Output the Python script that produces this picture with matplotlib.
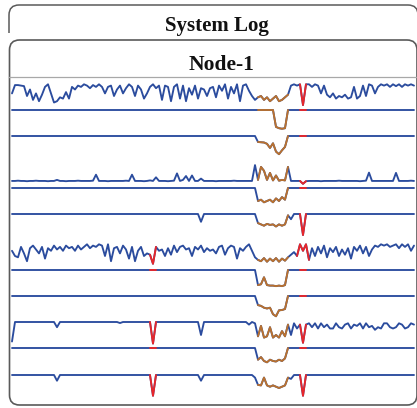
import matplotlib
matplotlib.use("Agg")
import matplotlib.pyplot as plt
from matplotlib.patches import FancyBboxPatch, PathPatch
from matplotlib.path import Path
import numpy as np

# ---------------- data (normalized levels) ----------------
TITLE = "System Log"
PANEL = "Node-1"

trace_a = [0.6, 0.92, 0.92, 0.9, 0.88, 0.5, 0.75, 0.35, 0.6, 0.3, 0.55, 0.85, 0.95, 0.6, 0.25,
           0.3, 0.45, 0.4, 0.65, 0.4, 0.85, 0.75, 0.9, 0.85, 0.95, 0.9, 0.8, 0.92, 0.85, 0.95,
           0.85, 0.6, 0.85, 0.9, 0.5, 0.75, 0.9, 0.6, 0.8, 0.95, 0.85, 0.5, 0.9, 0.75, 0.4,
           0.6, 0.85, 0.95, 0.8, 0.9, 0.35, 0.9, 0.85, 0.3, 0.85, 0.95, 0.4, 0.9, 0.3, 0.8,
           0.55, 0.9, 0.4, 0.8, 0.75, 0.5, 0.8, 0.85, 0.45, 0.9, 0.7, 0.95, 0.4, 0.85, 0.6,
           0.95, 0.3, 0.9, 0.95, 0.7, 0.5, 0.35, 0.45, 0.5, 0.35, 0.45, 0.3, 0.4, 0.5, 0.3,
           0.35, 0.45, 0.55, 0.9, 0.95, 0.9, 0.95, 0.15, 0.95, 0.95, 0.85, 0.95, 0.9, 0.6, 0.9,
           0.55, 0.45, 0.6, 0.4, 0.5, 0.45, 0.55, 0.4, 0.45, 0.85, 0.4, 0.5, 0.9, 0.5, 0.95,
           0.9, 0.6, 0.85, 0.95, 0.9, 0.95, 0.85, 0.95, 0.88, 0.95, 0.85, 0.95, 0.9, 0.95, 0.9]

trace_b = [1, 1, 1, 1, 1, 1, 1, 1, 1, 1, 1, 1, 1, 1, 1,
           1, 1, 1, 1, 1, 1, 1, 1, 1, 1, 1, 1, 1, 1, 1,
           1, 1, 1, 1, 1, 1, 1, 1, 1, 1, 1, 1, 1, 1, 1,
           1, 1, 1, 1, 1, 1, 1, 1, 1, 1, 1, 1, 1, 1, 1,
           1, 1, 1, 1, 1, 1, 1, 1, 1, 1, 1, 1, 1, 1, 1,
           1, 1, 1, 1, 1, 1, 1, 1, 1, 1, 1, 1, 1, 0.35, 0.3,
           0.28, 0.3, 1, 1, 1, 1, 1, 1, 1, 1, 1, 1, 1, 1, 1,
           1, 1, 1, 1, 1, 1, 1, 1, 1, 1, 1, 1, 1, 1, 1,
           1, 1, 1, 1, 1, 1, 1, 1, 1, 1, 1, 1, 1, 1, 1]

trace_c = [1, 1, 1, 1, 1, 1, 1, 1, 1, 1, 1, 1, 1, 1, 1,
           1, 1, 1, 1, 1, 1, 1, 1, 1, 1, 1, 1, 1, 1, 1,
           1, 1, 1, 1, 1, 1, 1, 1, 1, 1, 1, 1, 1, 1, 1,
           1, 1, 1, 1, 1, 1, 1, 1, 1, 1, 1, 1, 1, 1, 1,
           1, 1, 1, 1, 1, 1, 1, 1, 1, 1, 1, 1, 1, 1, 1,
           1, 1, 1, 1, 1, 1, 1, 0.77, 0.76, 0.75, 0.7, 0.54, 0.72, 0.4, 0.3,
           0.45, 0.58, 1, 1, 1, 1, 1, 1, 1, 1, 1, 1, 1, 1, 1,
           1, 1, 1, 1, 1, 1, 1, 1, 1, 1, 1, 1, 1, 1, 1,
           1, 1, 1, 1, 1, 1, 1, 1, 1, 1, 1, 1, 1, 1, 1]

trace_d = [0.31, 0.31, 0.32, 0.31, 0.31, 0.3, 0.31, 0.31, 0.32, 0.31, 0.31, 0.31, 0.3, 0.31, 0.31,
           0.35, 0.31, 0.31, 0.3, 0.31, 0.31, 0.31, 0.32, 0.31, 0.31, 0.31, 0.31, 0.32, 0.55, 0.31,
           0.31, 0.31, 0.3, 0.31, 0.31, 0.31, 0.31, 0.31, 0.32, 0.31, 0.55, 0.31, 0.31, 0.31, 0.3,
           0.31, 0.33, 0.31, 0.45, 0.31, 0.31, 0.31, 0.3, 0.31, 0.32, 0.6, 0.31, 0.35, 0.5, 0.31,
           0.52, 0.31, 0.31, 0.4, 0.31, 0.31, 0.31, 0.31, 0.3, 0.31, 0.31, 0.31, 0.31, 0.31, 0.32,
           0.31, 0.31, 0.31, 0.31, 0.31, 0.31, 0.92, 0.35, 0.85, 0.7, 0.35, 0.62, 0.33, 0.52, 0.32,
           0.35, 0.33, 0.85, 0.31, 0.31, 0.31, 0.31, 0.2, 0.3, 0.31, 0.31, 0.31, 0.31, 0.3, 0.31,
           0.31, 0.31, 0.31, 0.31, 0.32, 0.31, 0.31, 0.31, 0.31, 0.31, 0.31, 0.3, 0.31, 0.32, 0.63,
           0.31, 0.31, 0.31, 0.31, 0.31, 0.31, 0.31, 0.31, 0.62, 0.31, 0.31, 0.31, 0.31, 0.32, 0.31]

trace_e = [1, 1, 1, 1, 1, 1, 1, 1, 1, 1, 1, 1, 1, 1, 1,
           1, 1, 1, 1, 1, 1, 1, 1, 1, 1, 1, 1, 1, 1, 1,
           1, 1, 1, 1, 1, 1, 1, 1, 1, 1, 1, 1, 1, 1, 1,
           1, 1, 1, 1, 1, 1, 1, 1, 1, 1, 1, 1, 1, 1, 1,
           1, 1, 1, 1, 1, 1, 1, 1, 1, 1, 1, 1, 1, 1, 1,
           1, 1, 1, 1, 1, 1, 1, 0.5, 0.55, 0.45, 0.5, 0.55, 0.45, 0.6, 0.5,
           0.65, 0.55, 1, 1, 1, 1, 1, 1, 1, 1, 1, 1, 1, 1, 1,
           1, 1, 1, 1, 1, 1, 1, 1, 1, 1, 1, 1, 1, 1, 1,
           1, 1, 1, 1, 1, 1, 1, 1, 1, 1, 1, 1, 1, 1, 1]

trace_f = [1, 1, 1, 1, 1, 1, 1, 1, 1, 1, 1, 1, 1, 1, 1,
           1, 1, 1, 1, 1, 1, 1, 1, 1, 1, 1, 1, 1, 1, 1,
           1, 1, 1, 1, 1, 1, 1, 1, 1, 1, 1, 1, 1, 1, 1,
           1, 1, 1, 1, 1, 1, 1, 1, 1, 1, 1, 1, 1, 1, 1,
           1, 1, 1, 0.7, 1, 1, 1, 1, 1, 1, 1, 1, 1, 1, 1,
           1, 1, 1, 1, 1, 1, 1, 0.65, 0.6, 0.55, 0.62, 0.58, 0.6, 0.52, 0.6,
           0.55, 0.6, 0.95, 0.8, 1, 1, 1, 0.19, 1, 1, 1, 1, 1, 1, 1,
           1, 1, 1, 1, 1, 1, 1, 1, 1, 1, 1, 1, 1, 1, 1,
           1, 1, 1, 1, 1, 1, 1, 1, 1, 1, 1, 1, 1, 1, 1]

trace_g = [0.7, 0.5, 0.45, 0.85, 0.6, 0.3, 0.8, 0.9, 0.75, 0.6, 0.85, 0.4, 0.8, 0.7, 0.9,
           0.75, 0.85, 0.7, 0.9, 0.8, 0.85, 0.7, 0.9, 0.75, 0.85, 0.95, 0.8, 0.9, 0.85, 0.95,
           0.9, 0.5, 0.95, 0.3, 0.8, 0.85, 0.6, 0.9, 0.75, 0.4, 0.85, 0.3, 0.7, 0.85, 0.5,
           0.6, 0.55, 0.2, 0.85, 0.7, 0.75, 0.5, 0.8, 0.55, 0.9, 0.65, 0.85, 0.9, 0.75, 0.8,
           0.5, 0.85, 0.75, 0.9, 0.65, 0.8, 0.7, 0.75, 0.6, 0.85, 0.9, 0.55, 0.8, 0.9, 0.85,
           0.4, 0.8, 0.7, 0.85, 0.95, 0.7, 0.45, 0.35, 0.3, 0.42, 0.28, 0.4, 0.3, 0.42, 0.28,
           0.4, 0.32, 0.45, 0.55, 0.65, 0.5, 0.95, 0.7, 0.95, 0.35, 0.8, 0.5, 0.85, 0.6, 0.9,
           0.45, 0.8, 0.65, 0.85, 0.5, 0.75, 0.55, 0.8, 0.4, 0.85, 0.7, 0.9, 0.6, 0.85, 0.5,
           0.75, 0.9, 0.85, 0.95, 0.9, 0.95, 0.85, 0.9, 0.95, 0.8, 0.95, 0.85, 0.95, 0.7, 0.9]

trace_h = [1, 1, 1, 1, 1, 1, 1, 1, 1, 1, 1, 1, 1, 1, 1,
           1, 1, 1, 1, 1, 1, 1, 1, 1, 1, 1, 1, 1, 1, 1,
           1, 1, 1, 1, 1, 1, 1, 1, 1, 1, 1, 1, 1, 1, 1,
           1, 1, 1, 1, 1, 1, 1, 1, 1, 1, 1, 1, 1, 1, 1,
           1, 1, 1, 1, 1, 1, 1, 1, 1, 1, 1, 1, 1, 1, 1,
           1, 1, 1, 1, 1, 1, 1, 0.42, 0.45, 0.72, 0.42, 0.4, 0.4, 0.38, 0.4,
           0.38, 0.42, 1, 1, 1, 1, 1, 1, 1, 1, 1, 1, 1, 1, 1,
           1, 1, 1, 1, 1, 1, 1, 1, 1, 1, 1, 1, 1, 1, 1,
           1, 1, 1, 1, 1, 1, 1, 1, 1, 1, 1, 1, 1, 1, 1]

trace_i = [1, 1, 1, 1, 1, 1, 1, 1, 1, 1, 1, 1, 1, 1, 1,
           1, 1, 1, 1, 1, 1, 1, 1, 1, 1, 1, 1, 1, 1, 1,
           1, 1, 1, 1, 1, 1, 1, 1, 1, 1, 1, 1, 1, 1, 1,
           1, 1, 1, 1, 1, 1, 1, 1, 1, 1, 1, 1, 1, 1, 1,
           1, 1, 1, 1, 1, 1, 1, 1, 1, 1, 1, 1, 1, 1, 1,
           1, 1, 1, 1, 1, 1, 1, 0.65, 0.62, 0.55, 0.52, 0.55, 0.3, 0.22, 0.45,
           0.46, 0.5, 1, 1, 1, 1, 1, 1, 1, 1, 1, 1, 1, 1, 1,
           1, 1, 1, 1, 1, 1, 1, 1, 1, 1, 1, 1, 1, 1, 1,
           1, 1, 1, 1, 1, 1, 1, 1, 1, 1, 1, 1, 1, 1, 1]

trace_j = [0.25, 1, 1, 1, 1, 1, 1, 1, 1, 1, 1, 1, 1, 1, 1,
           0.8, 1, 1, 1, 1, 1, 1, 1, 1, 1, 1, 1, 1, 1, 1,
           1, 1, 1, 1, 1, 1, 0.96, 1, 1, 1, 1, 1, 1, 1, 1,
           1, 1, 0.17, 1, 1, 1, 1, 1, 1, 1, 1, 1, 1, 1, 1,
           1, 1, 1, 0.5, 1, 1, 1, 1, 1, 1, 1, 1, 1, 1, 1,
           1, 1, 1, 1, 0.9, 1, 0.95, 0.45, 0.85, 0.4, 0.45, 0.8, 0.4, 0.5, 0.4,
           0.65, 0.45, 0.9, 0.5, 0.95, 0.75, 0.9, 0.2, 0.9, 0.95, 0.8, 0.95, 0.75, 0.95, 0.8,
           0.9, 0.75, 0.75, 0.95, 0.8, 0.75, 0.9, 0.95, 0.75, 0.9, 0.85, 0.95, 0.75, 0.95, 0.8,
           0.85, 0.7, 0.8, 0.75, 0.95, 0.95, 0.8, 0.75, 0.8, 0.95, 0.9, 0.75, 0.8, 0.95, 0.9]

trace_k = [1, 1, 1, 1, 1, 1, 1, 1, 1, 1, 1, 1, 1, 1, 1,
           1, 1, 1, 1, 1, 1, 1, 1, 1, 1, 1, 1, 1, 1, 1,
           1, 1, 1, 1, 1, 1, 1, 1, 1, 1, 1, 1, 1, 1, 1,
           1, 1, 1, 1, 1, 1, 1, 1, 1, 1, 1, 1, 1, 1, 1,
           1, 1, 1, 1, 1, 1, 1, 1, 1, 1, 1, 1, 1, 1, 1,
           1, 1, 1, 1, 1, 1, 1, 0.55, 0.65, 0.5, 0.45, 0.55, 0.5, 0.48, 0.55,
           0.5, 0.6, 1, 1, 1, 1, 1, 1, 1, 1, 1, 1, 1, 1, 1,
           1, 1, 1, 1, 1, 1, 1, 1, 1, 1, 1, 1, 1, 1, 1,
           1, 1, 1, 1, 1, 1, 1, 1, 1, 1, 1, 1, 1, 1, 1]

trace_l = [1, 1, 1, 1, 1, 1, 1, 1, 1, 1, 1, 1, 1, 1, 1,
           0.78, 1, 1, 1, 1, 1, 1, 1, 1, 1, 1, 1, 1, 1, 1,
           1, 1, 1, 1, 1, 1, 1, 1, 1, 1, 1, 1, 1, 1, 1,
           1, 1, 0.2, 1, 1, 1, 1, 1, 1, 1, 1, 1, 1, 1, 1,
           1, 1, 1, 0.78, 1, 1, 1, 1, 1, 1, 1, 1, 1, 1, 1,
           1, 1, 1, 1, 1, 1, 0.9, 0.62, 0.6, 0.9, 0.6, 0.55, 0.6, 0.55, 0.5,
           0.55, 0.6, 0.9, 0.85, 1, 1, 1, 0.2, 1, 1, 1, 1, 1, 1, 1,
           1, 1, 1, 1, 1, 1, 1, 1, 1, 1, 1, 1, 1, 1, 1,
           1, 1, 1, 1, 1, 1, 1, 1, 1, 1, 1, 1, 1, 1, 1]

# anomaly windows (sample indices)
orange_span = (82, 92)
red_right = (96, 98)
red_right_g = (95, 99)
red_left = (46, 48)

# ---------------- layout / style ----------------
W, H = 417, 408
BLUE = "#2b4c9e"
ORANGE = "#b9712f"
RED = "#e8262a"
EDGE = "#5a5a5a"
LW = 1.35
SLOT = 26

fig = plt.figure(figsize=(W / 100, H / 100), dpi=100)
bg = fig.add_axes([0, 0, 1, 1])
bg.set_xlim(0, W)
bg.set_ylim(H, 0)
bg.axis("off")

# outer box (only upper part visible)
verts = [(9, 33), (9, 15), (9, 5), (19, 5), (408, 5), (418, 5), (418, 15), (418, 33)]
codes = [Path.MOVETO, Path.LINETO, Path.CURVE3, Path.CURVE3, Path.LINETO,
         Path.CURVE3, Path.CURVE3, Path.LINETO]
bg.add_patch(PathPatch(Path(verts, codes), fill=False, edgecolor=EDGE, lw=1.1))

# inner box
bg.add_patch(FancyBboxPatch((9.5, 40), 407.5, 365, boxstyle="round,pad=0,rounding_size=10",
                            facecolor="white", edgecolor=EDGE, lw=1.2))
bg.plot([9.5, 417], [77, 77], color="#a8a8a8", lw=0.9)

bg.text(217, 31, TITLE, ha="center", va="baseline", fontsize=15, fontweight="bold",
        family="Liberation Serif", color="#111111")
bg.text(221, 69.5, PANEL, ha="center", va="baseline", fontsize=15.5, fontweight="bold",
        family="Liberation Serif", color="#111111")

traces = [
    (trace_a, 83, [red_right]),
    (trace_b, 110, [red_right]),
    (trace_c, 136, [red_right]),
    (trace_d, 163, [red_right]),
    (trace_e, 188, [red_right]),
    (trace_f, 214, [red_right]),
    (trace_g, 243, [red_left, red_right_g]),
    (trace_h, 270, [red_left, red_right]),
    (trace_i, 296, [red_right]),
    (trace_j, 322, [red_left, red_right]),
    (trace_k, 348, [red_left, red_right]),
    (trace_l, 375, [red_left, red_right]),
]

for vals, top, reds in traces:
    vals = np.asarray(vals, dtype=float)
    x = np.arange(len(vals))
    ax = fig.add_axes([10 / W, 1 - (top + SLOT) / H, 406 / W, SLOT / H])
    ax.set_xlim(-2 / 3, len(vals) - 1 + 2 / 3)
    ax.set_ylim(0, 1)
    ax.axis("off")
    kw = dict(lw=LW, clip_on=False, solid_joinstyle="round", solid_capstyle="round")
    ax.plot(x, vals, color=BLUE, **kw)
    a, b = orange_span
    ax.plot(x[a:b + 1], vals[a:b + 1], color=ORANGE, **kw)
    for c, d in reds:
        ax.plot(x[c:d + 1], vals[c:d + 1], color=RED, **kw)

fig.savefig("out.png", dpi=100)
